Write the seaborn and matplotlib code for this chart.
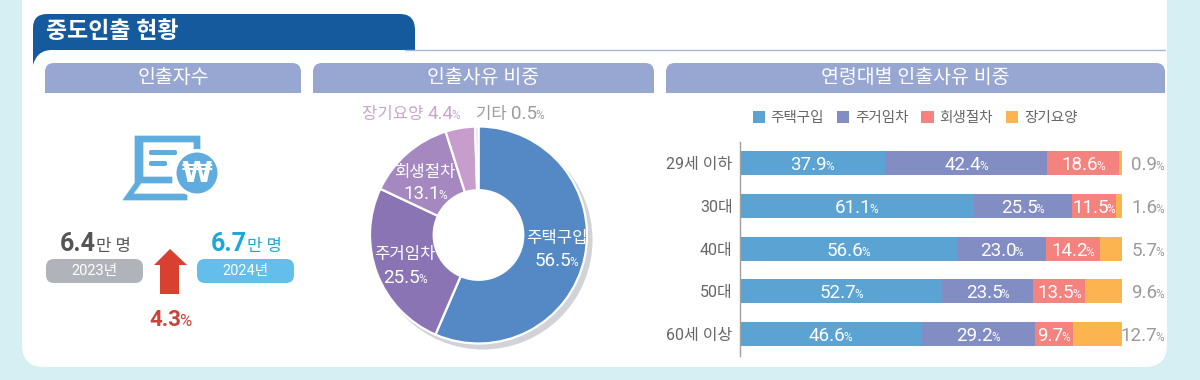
import matplotlib
matplotlib.use("Agg")
import matplotlib.pyplot as plt
import seaborn as sns
import pandas as pd
from matplotlib.patches import Circle, FancyBboxPatch, PathPatch, Polygon
from matplotlib.path import Path

# ---------- data ----------
ages = ["29세 이하", "30대", "40대", "50대", "60세 이상"]
reasons = ["주택구입", "주거임차", "회생절차", "장기요양"]
housing = [37.9, 61.1, 56.6, 52.7, 46.6]
rent = [42.4, 25.5, 23.0, 23.5, 29.2]
rehab = [18.6, 11.5, 14.2, 13.5, 9.7]
care = [0.9, 1.6, 5.7, 9.6, 12.7]
bar_colors = ["#5BA3D3", "#828DC4", "#F4827F", "#FBB44F"]

pie_labels = ["주택구입", "주거임차", "회생절차", "장기요양", "기타"]
pie_values = [56.5, 25.5, 13.1, 4.4, 0.5]
pie_colors = ["#5489C6", "#8B74B3", "#A488BF", "#C79ECB", "#DADAE4"]

count_2023 = "6.4"
count_2024 = "6.7"
count_change = "4.3"

sns.set_theme(style="white")
plt.rcParams["font.family"] = ["Roboto", "Noto Sans CJK KR", "DejaVu Sans"]

W, H = 1200, 380
fig = plt.figure(figsize=(W / 100, H / 100), dpi=100, facecolor="#D6EFF3")


def px_axes(z):
    a = fig.add_axes([0, 0, 1, 1], zorder=z)
    a.set_xlim(0, W)
    a.set_ylim(H, 0)
    a.axis("off")
    a.patch.set_alpha(0)
    return a


def px_rect_axes(x0, y0, x1, y1, z=1):
    return fig.add_axes([x0 / W, 1 - y1 / H, (x1 - x0) / W, (y1 - y0) / H], zorder=z)


base = px_axes(0)
top = px_axes(5)
renderer = fig.canvas.get_renderer()


def rich(ax, parts, xc, yc, color, ha="center"):
    """Place text runs with different sizes on one baseline, in pixel coordinates."""
    items = []
    for s, size, weight in parts:
        items.append(ax.text(0, yc, s, fontsize=size, fontweight=weight, color=color,
                             ha="left", va="baseline"))
    widths = [t.get_window_extent(renderer).width for t in items]
    for i, (s, _, _) in enumerate(parts):
        if s == "%":
            widths[i - 1] -= 2
    total = sum(widths)
    x = xc - total / 2 if ha == "center" else xc - total
    for t, w in zip(items, widths):
        t.set_x(x)
        x += w


def pct(ax, num, xc, yb, color, size=13.5, small=8.5, ha="center"):
    rich(ax, [(num, size, "normal"), ("%", small, "normal")], xc, yb, color, ha)


# ---------- page furniture ----------
base.add_patch(FancyBboxPatch((22, -40), 1145, 407, boxstyle="round,pad=0,rounding_size=22",
                              fc="white", ec="none"))
base.plot([405, 1165], [50, 50], color="#A5B7D6", lw=1)
verts = [(33, 65), (33, 28), (33, 14), (47, 14), (400, 14), (415, 14), (415, 30), (415, 50),
         (52, 50), (37, 50), (33, 65)]
codes = [Path.MOVETO, Path.LINETO, Path.CURVE3, Path.CURVE3, Path.LINETO, Path.CURVE3,
         Path.CURVE3, Path.LINETO, Path.LINETO, Path.CURVE3, Path.CURVE3]
base.add_patch(PathPatch(Path(verts, codes), fc="#165A9E", ec="none"))
top.text(46, 31, "중도인출 현황", color="white", fontsize=16.5, fontweight="bold", ha="left", va="center")

for x0, x1, label in [(45, 301, "인출자수"), (313, 654, "인출사유 비중"), (666, 1165, "연령대별 인출사유 비중")]:
    r = 9
    v = [(x0, 93), (x0, 63 + r), (x0, 63), (x0 + r, 63), (x1 - r, 63), (x1, 63), (x1, 63 + r), (x1, 93), (x0, 93)]
    c = [Path.MOVETO, Path.LINETO, Path.CURVE3, Path.CURVE3, Path.LINETO, Path.CURVE3, Path.CURVE3,
         Path.LINETO, Path.CLOSEPOLY]
    base.add_patch(PathPatch(Path(v, c), fc="#98A6D2", ec="none"))
    top.text((x0 + x1) / 2, 78, label, color="white", fontsize=14, ha="center", va="center")

# ---------- left panel ----------
ic = "#5FADDE"
base.add_patch(PathPatch(Path([(135, 200), (123, 200), (135, 183), (135, 136), (200, 136), (200, 150),
                               (194, 150), (194, 142), (143, 142), (143, 177), (172, 177), (172, 183),
                               (141, 183), (133, 194), (187, 194), (187, 200), (135, 200)]),
                         fc=ic, ec=ic, lw=0.5, joinstyle="round"))
base.add_patch(FancyBboxPatch((149, 150), 28, 5, boxstyle="round,pad=0,rounding_size=2", fc=ic, ec="none"))
base.add_patch(FancyBboxPatch((149, 161), 18, 5, boxstyle="round,pad=0,rounding_size=2", fc=ic, ec="none"))
base.add_patch(Circle((197, 173), 24, fc="white", ec="none"))
base.add_patch(Circle((197, 173), 20.5, fc=ic, ec="none"))
top.text(197, 174, "₩", color="white", fontsize=20, fontweight="bold", ha="center", va="center",
         family="DejaVu Sans")

rich(top, [(count_2023, 18, "bold"), ("만 명", 12, "normal")], 95, 251, "#555555")
rich(top, [(count_2024, 18, "bold"), ("만 명", 12, "normal")], 246, 251, "#1CA7D8")
base.add_patch(FancyBboxPatch((46, 259), 97, 24, boxstyle="round,pad=0,rounding_size=8", fc="#B0B3BA", ec="none"))
base.add_patch(FancyBboxPatch((197, 259), 97, 24, boxstyle="round,pad=0,rounding_size=8", fc="#63BEEB", ec="none"))
top.text(94.5, 271.5, "2023년", color="white", fontsize=10.5, ha="center", va="center")
top.text(245.5, 271.5, "2024년", color="white", fontsize=10.5, ha="center", va="center")
base.add_patch(Polygon([(170, 249), (187, 265), (179, 265), (179, 294), (160, 294), (160, 265), (154, 265)],
                       fc="#D8402F", ec="none"))
rich(top, [(count_change, 16, "bold"), ("%", 12, "normal")], 170, 326, "#C8443A")

# ---------- donut ----------
base.add_patch(Circle((483, 240), 109.5, fc="#D2D3D8", ec="none"))
pie_ax = px_rect_axes(370, 126.5, 587, 343.5)
pie_ax.patch.set_alpha(0)
pie_ax.pie(pie_values, colors=pie_colors, startangle=90, counterclock=False, radius=1,
           wedgeprops=dict(width=0.587, edgecolor="white", linewidth=1.6))
pie_ax.add_patch(Circle((0, 0), 0.413, fc="white", ec="none", zorder=5))
pie_ax.set_xlim(-1, 1)
pie_ax.set_ylim(-1, 1)

top.text(557, 238, pie_labels[0], color="white", fontsize=12, ha="center", va="center")
pct(top, "56.5", 556, 266, "white")
top.text(405, 255, pie_labels[1], color="white", fontsize=12, ha="center", va="center")
pct(top, "25.5", 405, 283, "white")
top.text(425, 172, pie_labels[2], color="white", fontsize=12, ha="center", va="center")
pct(top, "13.1", 425, 199, "white")
rich(top, [(pie_labels[3] + " ", 12, "normal"), ("4.4", 13.5, "normal"), ("%", 8.5, "normal")], 411, 119, "#C9A6CF")
rich(top, [(pie_labels[4] + " ", 12, "normal"), ("0.5", 13.5, "normal"), ("%", 8.5, "normal")], 510, 119, "#9C9C9C")

# ---------- stacked bars ----------
bar_ax = px_rect_axes(739.5, 142, 1122, 355.5, z=1)
bar_ax.patch.set_alpha(0)
df = pd.DataFrame({"age": ages, reasons[0]: housing, reasons[1]: rent, reasons[2]: rehab, reasons[3]: care})
totals = df[reasons].sum(axis=1)
shares = df[reasons].div(totals, axis=0) * 100
shares["age"] = ages
left = pd.Series([0.0] * len(ages))
starts = {}
for name, colour in zip(reasons, bar_colors):
    starts[name] = left.copy()
    sns.barplot(data=shares, x=name, y="age", order=ages, orient="y", left=left.values, color=colour,
                saturation=1, width=0.56, label=name, ax=bar_ax, linewidth=0)
    left = left + shares[name]

bar_ax.set_xlim(0, 100)
bar_ax.set_ylim(len(ages) - 0.5, -0.5)
bar_ax.set_xlabel("")
bar_ax.set_ylabel("")
bar_ax.set_xticks([])
bar_ax.tick_params(axis="y", length=0, pad=5, labelsize=11.5, labelcolor="#666666")
for s in ["top", "right", "bottom"]:
    bar_ax.spines[s].set_visible(False)
bar_ax.spines["left"].set_color("#A0A0A0")
bar_ax.spines["left"].set_linewidth(1)
bar_ax.legend(ncols=4, frameon=False, loc="center", bbox_to_anchor=(915 / W, 1 - 118 / H),
              bbox_transform=fig.transFigure, fontsize=10.5, handlelength=0.85, handleheight=0.85,
              handletextpad=0.4, columnspacing=0.87, labelcolor="#666666", borderpad=0)

to_px = top.transData.inverted().transform
for name in reasons[:3]:
    for i in range(len(ages)):
        xc, yc = to_px(bar_ax.transData.transform((starts[name][i] + shares[name][i] / 2, i)))
        pct(top, f"{df[name][i]:.1f}", xc, yc + 7, "white")
for i in range(len(ages)):
    _, yc = to_px(bar_ax.transData.transform((0, i)))
    pct(top, f"{care[i]:.1f}", 1164, yc + 7, "#9A9A9A", ha="right")

fig.savefig("out.png", dpi=100, facecolor=fig.get_facecolor())
